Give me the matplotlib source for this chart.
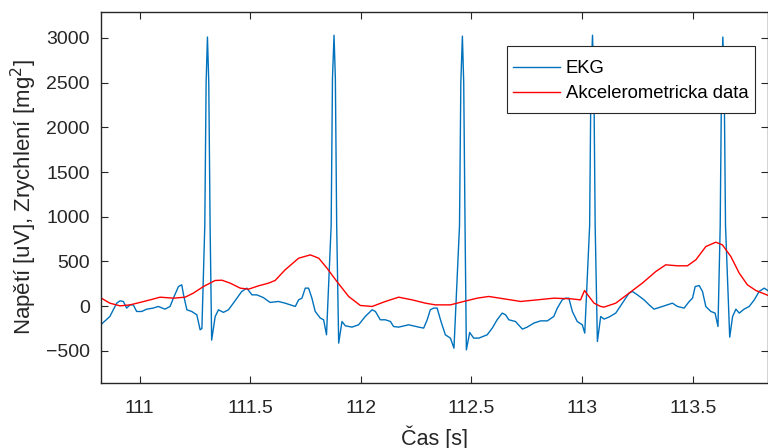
import matplotlib
matplotlib.use("Agg")
import matplotlib.pyplot as plt
from matplotlib.patches import Rectangle

# EKG signal (time [s], voltage [uV])
ekg_t = [110.820, 110.866, 110.897, 110.912, 110.927, 110.942, 110.957, 110.972, 110.987, 111.010,
         111.033, 111.062, 111.085, 111.115, 111.138, 111.153, 111.176, 111.191, 111.199, 111.214,
         111.236, 111.259, 111.274, 111.282, 111.295, 111.301, 111.307, 111.313, 111.319, 111.326,
         111.342, 111.357, 111.379, 111.402,
         111.424, 111.440, 111.462, 111.485, 111.508, 111.530, 111.560, 111.590, 111.628, 111.658,
         111.704, 111.719, 111.734, 111.749, 111.764, 111.779, 111.794, 111.817, 111.832, 111.845,
         111.866, 111.872, 111.879, 111.885, 111.891,
         111.900, 111.915, 111.930, 111.960, 111.990, 112.020, 112.051, 112.066, 112.088,
         112.111, 112.134, 112.148, 112.171, 112.216, 112.262, 112.284, 112.300, 112.314, 112.329,
         112.345, 112.360, 112.382, 112.405, 112.421, 112.446, 112.452, 112.459, 112.465, 112.471,
         112.477, 112.492, 112.510, 112.533,
         112.571, 112.594, 112.616, 112.639, 112.654, 112.669, 112.699, 112.730, 112.752, 112.782,
         112.812, 112.843, 112.872, 112.888, 112.910, 112.925, 112.940, 112.956, 112.978, 113.001,
         113.012, 113.034, 113.040, 113.047, 113.053, 113.059,
         113.069, 113.084, 113.099, 113.121, 113.152, 113.182, 113.212, 113.227,
         113.250, 113.280, 113.303, 113.325, 113.363, 113.408, 113.431, 113.461, 113.484, 113.499,
         113.511, 113.529, 113.544, 113.559, 113.582, 113.601, 113.614, 113.624, 113.630, 113.636,
         113.642, 113.648, 113.667, 113.680,
         113.695, 113.710, 113.732, 113.755, 113.778, 113.800, 113.823, 113.845]
ekg_v = [-220, -116, 33, 59, 52, -22, 14, 14, -60, -60,
         -34, -22, -4, -34, -4, 89, 219, 238, 126, -41,
         -60, -97, -265, -250, 900, 2500, 3010, 2500, 900, -380,
         -116, -41, -70, -41,
         33, 89, 164, 201, 126, 126, 95, 41, 52, 33,
         -4, 70, 89, 201, 201, 89, -60, -134, -153, -321,
         900, 2550, 3030, 2550, 900,
         -414, -172, -220, -235, -209, -116, -41, -60, -153,
         -153, -172, -228, -235, -209, -235, -246, -153, -41, -22,
         -22, -153, -321, -358, -470, 900, 2500, 3020, 2500, 900,
         -489, -295, -358, -358,
         -321, -246, -153, -78, -97, -153, -172, -257, -235, -190,
         -165, -165, -116, -22, 70, 89, 89, -60, -172, -209,
         -302, 900, 2550, 3030, 2550, 900,
         -396, -116, -145, -123, -78, 33, 145, 164,
         126, 70, 14, -34, -4, 33, -4, -22, 52, 89,
         219, 230, 164, -4, -60, -78, -228, 900, 2500, 3010,
         2500, 900, -347, -116,
         -34, -78, -34, -4, 70, 164, 201, 164]

# Accelerometer data (time [s], value [mg^2])
acc_t = [110.820, 110.866, 110.912, 110.957, 111.002, 111.048, 111.093, 111.153, 111.206, 111.243,
         111.289, 111.342, 111.372, 111.410, 111.455, 111.493, 111.538, 111.583, 111.613, 111.658,
         111.719, 111.772, 111.810, 111.847, 111.892, 111.945, 111.998, 112.051, 112.111, 112.171,
         112.232, 112.292, 112.337, 112.405, 112.465, 112.526, 112.578, 112.646, 112.722, 112.797,
         112.872, 112.948, 112.993, 113.011, 113.024, 113.054, 113.084, 113.099, 113.152, 113.212,
         113.272, 113.333, 113.378, 113.431, 113.476, 113.514, 113.559, 113.604, 113.634, 113.672,
         113.710, 113.747, 113.785, 113.845]
acc_v = [100, 33, 3, 14, 41, 70, 100, 89, 100, 145,
         219, 287, 290, 257, 201, 190, 227, 257, 287, 406,
         536, 573, 536, 425, 275, 108, 7, -4, 52, 100,
         70, 33, 14, 14, 52, 89, 108, 82, 52, 70,
         89, 82, 70, 175, 130, 33, -4, -11, 33, 145,
         257, 387, 462, 451, 451, 518, 666, 715, 685, 555,
         369, 238, 175, 115]

x_ticks = [111, 111.5, 112, 112.5, 113, 113.5]
x_ticklabels = ["111", "111.5", "112", "112.5", "113", "113.5"]
y_ticks = [-500, 0, 500, 1000, 1500, 2000, 2500, 3000]

plt.rcParams['font.family'] = ['Liberation Sans', 'DejaVu Sans']
dark = '#262626'
W, H = 768, 448

fig = plt.figure(figsize=(7.68, 4.48), dpi=100)
ax = fig.add_axes([101/W, 1 - 383/H, 1 - 101/W, (383 - 12)/H])

ax.plot(ekg_t, ekg_v, color='#0072BD', lw=1.0, label='EKG')
ax.plot(acc_t, acc_v, color='#FF0000', lw=1.0, label='Akcelerometricka data')

ax.set_xlim(110.826, 113.84)
ax.set_ylim(-860, 3290)
ax.set_xticks(x_ticks)
ax.set_xticklabels(x_ticklabels)
ax.set_yticks(y_ticks)

ax.tick_params(direction='in', length=5, width=0.8, colors=dark, labelsize=14,
               top=True, right=True, pad=8)
ax.tick_params(axis='x', pad=12)
for s in ax.spines.values():
    s.set_color(dark)
    s.set_linewidth(1.0)

ax.set_xlabel('Čas [s]', fontsize=15.5, color=dark, labelpad=6)
ax.set_ylabel('Napětí [uV], Zrychlení [mg$^2$]', fontsize=16, color=dark, labelpad=5)

# legend frame (MATLAB-style box)
frame = Rectangle((507/W, 1 - 113/H), (755 - 507)/W, (113 - 46)/H,
                  transform=fig.transFigure, facecolor='white', edgecolor=dark,
                  linewidth=0.8, zorder=4, clip_on=False)
ax.add_patch(frame)
leg = ax.legend(loc='upper left', bbox_to_anchor=(513/W, 1 - 60/H),
                bbox_transform=fig.transFigure, fontsize=13.3, frameon=False,
                borderaxespad=0, borderpad=0,
                handlelength=2.55, handletextpad=0.3, labelspacing=0.45)
leg.set_zorder(6)
for t in leg.get_texts():
    t.set_color('black')

fig.savefig('out.png', dpi=100)
